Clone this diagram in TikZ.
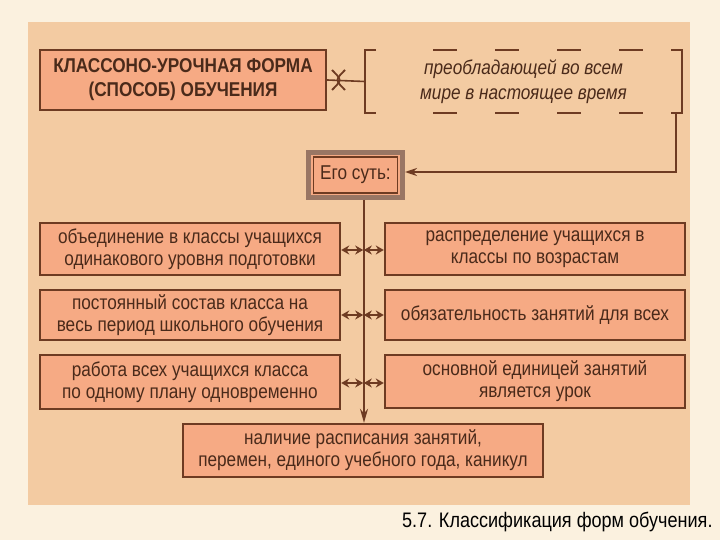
\documentclass[tikz,border=0pt]{standalone}
\usepackage{fontspec}
\setmainfont{Liberation Sans}[FakeStretch=0.86]
\usetikzlibrary{arrows.meta}
\definecolor{pagebg}{HTML}{FBF1DF}
\definecolor{panel}{HTML}{F3CBA2}
\definecolor{boxfill}{HTML}{F6AA84}
\definecolor{brn}{HTML}{6E3B22}
\definecolor{txt}{HTML}{4A2A1A}
\tikzset{
  box/.style={draw=brn, line width=2.4pt, fill=boxfill, text=txt, align=center, inner sep=0pt, font=\fontsize{20}{22}\selectfont},
  conn/.style={draw=brn, line width=1.6pt},
  dbl/.style={conn, {Stealth[length=8pt,width=9pt]}-{Stealth[length=8pt,width=9pt]}},
}
\begin{document}
\begin{tikzpicture}[x=1pt,y=-1pt]
\useasboundingbox (0,0) rectangle (720,540);
\fill[pagebg] (0,0) rectangle (720,540);
\fill[panel] (28,22) rectangle (690,505);
% title
\node[box, minimum width=286pt, minimum height=60pt, font=\bfseries\fontsize{20}{24}\selectfont] (title) at (183,80) {КЛАССОНО-УРОЧНАЯ ФОРМА\\(СПОСОБ) ОБУЧЕНИЯ};
% dashed bracket
\node[text=txt, align=center, font=\itshape\fontsize{20}{25}\selectfont, minimum width=317pt, minimum height=63pt, inner sep=0pt] (pref) at (523.5,81.5) {преобладающей во всем\\мире в настоящее время};
\draw[brn, line width=2.4pt] (376,50) -| (365,113) -- (376,113);
\draw[brn, line width=2.4pt] (671,50) -| (682,113) -- (671,113);
\draw[brn, line width=2.4pt, dash pattern=on 24pt off 38pt, dash phase=-8pt] (425,50) -- (650,50);
\draw[brn, line width=2.4pt, dash pattern=on 24pt off 38pt, dash phase=-8pt] (425,113) -- (650,113);
% symbol between
\draw[conn] (title.east) -- (pref.west);
\draw[brn, line width=1.8pt] (332,70) .. controls (342,80) .. (332,90);
\draw[brn, line width=1.8pt] (345,70) .. controls (335,80) .. (345,90);
% essence box
\node[box, line width=5pt, draw=brn!70, minimum width=94pt, minimum height=45pt] (ess) at (355.5,175) {};
\node[box, line width=1.5pt, minimum width=84pt, minimum height=36pt] (essin) at (355.5,175) {Его суть:};
\coordinate (corner) at (676,172);
\draw[conn, -{Stealth[length=12pt,width=8pt]}] (676,113) -- (corner) -- (ess.east |- corner);
% left boxes
\node[box, minimum width=300pt, minimum height=52pt] (l1) at (190,249) {объединение в классы учащихся\\одинакового уровня подготовки};
\node[box, minimum width=300pt, minimum height=50pt] (l2) at (190,315) {постоянный состав класса на\\весь период школьного обучения};
\node[box, minimum width=300pt, minimum height=54pt] (l3) at (190,382) {работа всех учащихся класса\\по одному плану одновременно};
% right boxes
\node[box, minimum width=300pt, minimum height=52pt] (r1) at (535,249) {распределение учащихся в\\классы по возрастам};
\node[box, minimum width=300pt, minimum height=50pt] (r2) at (535,315) {обязательность занятий для всех};
\node[box, minimum width=300pt, minimum height=53pt] (r3) at (535,381.5) {основной единицей занятий\\является урок};
% bottom box
\node[box, minimum width=360pt, minimum height=53pt] (bot) at (363,450.5) {наличие расписания занятий,\\перемен, единого учебного года, каникул};
% spine
\coordinate (sp1) at (364,250);
\coordinate (sp2) at (364,315);
\coordinate (sp3) at (364,383);
\draw[conn, -{Stealth[length=14pt,width=8pt]}] (ess.south -| sp1) -- (sp1 |- bot.north);
\foreach \i in {1,2,3}{
  \draw[dbl] (l\i.east |- sp\i) -- ++(22,0);
  \draw[dbl] (r\i.west |- sp\i) -- ++(-20,0);
}
% caption
\node[anchor=east, text=black, font=\fontsize{21}{24}\selectfont] (cap) at (716,522) {5.7. Классификация форм обучения.};
\end{tikzpicture}
\end{document}
